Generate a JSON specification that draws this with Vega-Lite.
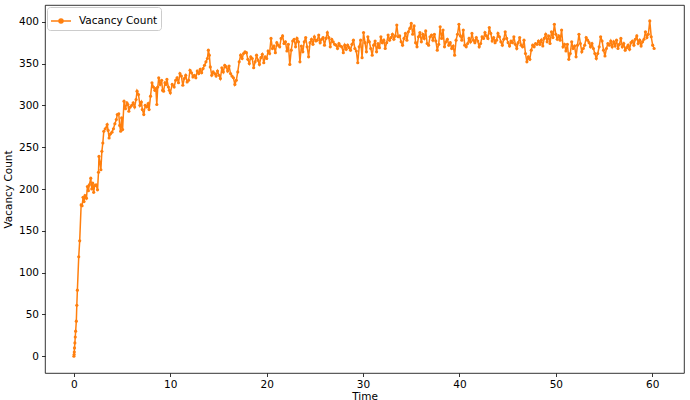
{
  "$schema": "https://vega.github.io/schema/vega-lite/v6.json",
  "width": 639,
  "height": 368,
  "autosize": {"type": "none"},
  "padding": {"left": 45, "top": 5, "right": 6, "bottom": 27},
  "background": "white",
  "config": {
    "view": {"stroke": "black", "strokeWidth": 0.8},
    "font": "DejaVu Sans",
    "axis": {"grid": false, "domain": false, "tickColor": "black", "tickSize": 3.5, "tickWidth": 0.8, "labelColor": "black", "labelFontSize": 10.5, "labelFont": "DejaVu Sans", "titleFont": "DejaVu Sans", "titleFontSize": 10.5, "titleFontWeight": "normal", "titleColor": "black", "labelPadding": 3}
  },
  "data": {"values": [
    {"t":0,"v":0},{"t":0.02,"v":2},{"t":0.04,"v":5},{"t":0.06,"v":10},{"t":0.1,"v":16},{"t":0.14,"v":23},{"t":0.18,"v":30},{"t":0.25,"v":42},{"t":0.3,"v":61},{"t":0.36,"v":79},{"t":0.5,"v":119},{"t":0.6,"v":138},{"t":0.75,"v":181},{"t":0.85,"v":180},{"t":0.95,"v":190},{"t":1.05,"v":185},{"t":1.15,"v":192},{"t":1.3,"v":189},{"t":1.4,"v":203},{"t":1.5,"v":198},{"t":1.6,"v":205},{"t":1.75,"v":213},{"t":1.85,"v":200},{"t":1.95,"v":207},{"t":2.05,"v":196},{"t":2.15,"v":204},{"t":2.3,"v":205},{"t":2.45,"v":199},{"t":2.55,"v":220},{"t":2.6,"v":239},{"t":2.7,"v":232},{"t":2.8,"v":223},{"t":2.9,"v":245},{"t":3.0,"v":255},{"t":3.1,"v":269},{"t":3.25,"v":272},{"t":3.45,"v":277},{"t":3.55,"v":270},{"t":3.65,"v":261},{"t":3.8,"v":266},{"t":3.95,"v":268},{"t":4.1,"v":272},{"t":4.25,"v":278},{"t":4.4,"v":283},{"t":4.5,"v":289},{"t":4.65,"v":290},{"t":4.75,"v":276},{"t":4.85,"v":269},{"t":4.95,"v":285},{"t":5.05,"v":271},{"t":5.2,"v":305},{"t":5.35,"v":296},{"t":5.5,"v":303},{"t":5.6,"v":301},{"t":5.7,"v":293},{"t":5.85,"v":298},{"t":6.0,"v":300},{"t":6.15,"v":303},{"t":6.3,"v":298},{"t":6.45,"v":307},{"t":6.55,"v":317},{"t":6.7,"v":313},{"t":6.85,"v":300},{"t":7.0,"v":304},{"t":7.1,"v":295},{"t":7.25,"v":289},{"t":7.4,"v":300},{"t":7.55,"v":298},{"t":7.7,"v":302},{"t":7.8,"v":295},{"t":7.95,"v":311},{"t":8.1,"v":327},{"t":8.25,"v":322},{"t":8.4,"v":318},{"t":8.5,"v":320},{"t":8.6,"v":301},{"t":8.7,"v":322},{"t":8.8,"v":333},{"t":8.95,"v":325},{"t":9.1,"v":330},{"t":9.2,"v":318},{"t":9.3,"v":317},{"t":9.45,"v":327},{"t":9.55,"v":325},{"t":9.65,"v":331},{"t":9.8,"v":322},{"t":9.9,"v":318},{"t":10.0,"v":315},{"t":10.2,"v":325},{"t":10.4,"v":322},{"t":10.55,"v":330},{"t":10.7,"v":333},{"t":10.85,"v":327},{"t":11.0,"v":338},{"t":11.15,"v":335},{"t":11.3,"v":324},{"t":11.45,"v":332},{"t":11.6,"v":336},{"t":11.75,"v":328},{"t":11.9,"v":330},{"t":12.05,"v":342},{"t":12.2,"v":339},{"t":12.35,"v":334},{"t":12.5,"v":336},{"t":12.65,"v":333},{"t":12.8,"v":341},{"t":12.95,"v":338},{"t":13.1,"v":343},{"t":13.25,"v":339},{"t":13.4,"v":344},{"t":13.55,"v":348},{"t":13.7,"v":352},{"t":13.85,"v":356},{"t":13.95,"v":366},{"t":14.05,"v":360},{"t":14.15,"v":346},{"t":14.3,"v":336},{"t":14.45,"v":340},{"t":14.6,"v":338},{"t":14.75,"v":335},{"t":14.9,"v":341},{"t":15.05,"v":336},{"t":15.2,"v":332},{"t":15.35,"v":345},{"t":15.5,"v":340},{"t":15.65,"v":348},{"t":15.8,"v":346},{"t":15.95,"v":341},{"t":16.1,"v":347},{"t":16.25,"v":338},{"t":16.4,"v":335},{"t":16.55,"v":333},{"t":16.7,"v":325},{"t":16.85,"v":330},{"t":17.0,"v":340},{"t":17.15,"v":352},{"t":17.3,"v":360},{"t":17.45,"v":356},{"t":17.6,"v":362},{"t":17.75,"v":364},{"t":17.9,"v":363},{"t":18.05,"v":355},{"t":18.2,"v":350},{"t":18.35,"v":358},{"t":18.5,"v":356},{"t":18.65,"v":345},{"t":18.8,"v":352},{"t":18.95,"v":360},{"t":19.1,"v":354},{"t":19.25,"v":349},{"t":19.4,"v":357},{"t":19.55,"v":361},{"t":19.7,"v":351},{"t":19.85,"v":358},{"t":20.0,"v":356},{"t":20.15,"v":365},{"t":20.3,"v":362},{"t":20.45,"v":380},{"t":20.6,"v":368},{"t":20.75,"v":371},{"t":20.9,"v":363},{"t":21.05,"v":375},{"t":21.2,"v":372},{"t":21.35,"v":370},{"t":21.5,"v":380},{"t":21.65,"v":383},{"t":21.8,"v":374},{"t":21.95,"v":376},{"t":22.1,"v":365},{"t":22.25,"v":373},{"t":22.4,"v":349},{"t":22.55,"v":366},{"t":22.7,"v":377},{"t":22.85,"v":379},{"t":23.0,"v":370},{"t":23.15,"v":380},{"t":23.3,"v":376},{"t":23.45,"v":352},{"t":23.6,"v":371},{"t":23.75,"v":364},{"t":23.9,"v":376},{"t":24.05,"v":381},{"t":24.2,"v":370},{"t":24.35,"v":358},{"t":24.5,"v":375},{"t":24.65,"v":379},{"t":24.8,"v":373},{"t":24.95,"v":382},{"t":25.1,"v":377},{"t":25.25,"v":378},{"t":25.4,"v":384},{"t":25.55,"v":375},{"t":25.7,"v":379},{"t":25.85,"v":381},{"t":26.0,"v":372},{"t":26.15,"v":380},{"t":26.3,"v":387},{"t":26.45,"v":381},{"t":26.6,"v":370},{"t":26.75,"v":379},{"t":26.9,"v":376},{"t":27.05,"v":373},{"t":27.2,"v":372},{"t":27.35,"v":368},{"t":27.5,"v":374},{"t":27.65,"v":371},{"t":27.8,"v":370},{"t":27.95,"v":363},{"t":28.1,"v":372},{"t":28.25,"v":367},{"t":28.4,"v":372},{"t":28.55,"v":369},{"t":28.7,"v":366},{"t":28.85,"v":373},{"t":29.0,"v":378},{"t":29.15,"v":368},{"t":29.3,"v":365},{"t":29.45,"v":351},{"t":29.6,"v":370},{"t":29.75,"v":378},{"t":29.9,"v":357},{"t":30.05,"v":387},{"t":30.2,"v":375},{"t":30.35,"v":364},{"t":30.5,"v":382},{"t":30.65,"v":376},{"t":30.8,"v":368},{"t":30.95,"v":360},{"t":31.1,"v":372},{"t":31.25,"v":377},{"t":31.4,"v":364},{"t":31.55,"v":374},{"t":31.7,"v":369},{"t":31.85,"v":382},{"t":32.0,"v":375},{"t":32.15,"v":378},{"t":32.3,"v":368},{"t":32.45,"v":375},{"t":32.6,"v":384},{"t":32.75,"v":378},{"t":32.9,"v":381},{"t":33.05,"v":385},{"t":33.2,"v":379},{"t":33.35,"v":383},{"t":33.5,"v":396},{"t":33.65,"v":382},{"t":33.8,"v":383},{"t":33.95,"v":376},{"t":34.1,"v":372},{"t":34.25,"v":380},{"t":34.4,"v":386},{"t":34.55,"v":378},{"t":34.7,"v":388},{"t":34.85,"v":392},{"t":35.0,"v":398},{"t":35.15,"v":385},{"t":35.3,"v":395},{"t":35.45,"v":375},{"t":35.6,"v":370},{"t":35.75,"v":382},{"t":35.9,"v":387},{"t":36.05,"v":376},{"t":36.2,"v":385},{"t":36.35,"v":380},{"t":36.5,"v":389},{"t":36.65,"v":374},{"t":36.8,"v":372},{"t":36.95,"v":382},{"t":37.1,"v":384},{"t":37.25,"v":378},{"t":37.4,"v":385},{"t":37.55,"v":377},{"t":37.7,"v":366},{"t":37.85,"v":373},{"t":38.0,"v":394},{"t":38.15,"v":380},{"t":38.3,"v":390},{"t":38.45,"v":370},{"t":38.6,"v":376},{"t":38.75,"v":379},{"t":38.9,"v":372},{"t":39.05,"v":375},{"t":39.2,"v":368},{"t":39.35,"v":371},{"t":39.5,"v":360},{"t":39.65,"v":378},{"t":39.8,"v":385},{"t":39.95,"v":397},{"t":40.1,"v":383},{"t":40.25,"v":378},{"t":40.4,"v":390},{"t":40.55,"v":372},{"t":40.7,"v":370},{"t":40.85,"v":374},{"t":41.0,"v":380},{"t":41.15,"v":376},{"t":41.3,"v":386},{"t":41.45,"v":378},{"t":41.6,"v":375},{"t":41.75,"v":381},{"t":41.9,"v":377},{"t":42.05,"v":370},{"t":42.2,"v":374},{"t":42.35,"v":382},{"t":42.5,"v":380},{"t":42.65,"v":387},{"t":42.8,"v":383},{"t":42.95,"v":380},{"t":43.1,"v":393},{"t":43.25,"v":386},{"t":43.4,"v":377},{"t":43.55,"v":381},{"t":43.7,"v":375},{"t":43.85,"v":378},{"t":44.0,"v":386},{"t":44.15,"v":382},{"t":44.3,"v":376},{"t":44.45,"v":372},{"t":44.6,"v":379},{"t":44.75,"v":388},{"t":44.9,"v":380},{"t":45.05,"v":375},{"t":45.2,"v":371},{"t":45.35,"v":377},{"t":45.5,"v":375},{"t":45.65,"v":382},{"t":45.8,"v":373},{"t":45.95,"v":368},{"t":46.1,"v":375},{"t":46.25,"v":381},{"t":46.4,"v":372},{"t":46.55,"v":370},{"t":46.7,"v":378},{"t":46.85,"v":362},{"t":47.0,"v":352},{"t":47.15,"v":358},{"t":47.3,"v":355},{"t":47.45,"v":366},{"t":47.6,"v":372},{"t":47.75,"v":370},{"t":47.9,"v":374},{"t":48.05,"v":373},{"t":48.2,"v":377},{"t":48.35,"v":373},{"t":48.5,"v":378},{"t":48.65,"v":371},{"t":48.8,"v":380},{"t":48.95,"v":385},{"t":49.1,"v":376},{"t":49.25,"v":383},{"t":49.4,"v":374},{"t":49.55,"v":388},{"t":49.7,"v":381},{"t":49.85,"v":397},{"t":50.0,"v":385},{"t":50.15,"v":379},{"t":50.3,"v":383},{"t":50.45,"v":378},{"t":50.6,"v":390},{"t":50.75,"v":370},{"t":50.9,"v":373},{"t":51.05,"v":365},{"t":51.2,"v":373},{"t":51.35,"v":355},{"t":51.5,"v":362},{"t":51.65,"v":376},{"t":51.8,"v":368},{"t":51.95,"v":371},{"t":52.1,"v":358},{"t":52.25,"v":372},{"t":52.4,"v":385},{"t":52.55,"v":374},{"t":52.7,"v":364},{"t":52.85,"v":368},{"t":53.0,"v":372},{"t":53.15,"v":381},{"t":53.3,"v":378},{"t":53.45,"v":375},{"t":53.6,"v":370},{"t":53.75,"v":374},{"t":53.9,"v":368},{"t":54.05,"v":362},{"t":54.2,"v":356},{"t":54.35,"v":362},{"t":54.5,"v":370},{"t":54.65,"v":382},{"t":54.8,"v":377},{"t":54.95,"v":366},{"t":55.1,"v":359},{"t":55.25,"v":368},{"t":55.4,"v":374},{"t":55.55,"v":372},{"t":55.7,"v":377},{"t":55.85,"v":370},{"t":56.0,"v":376},{"t":56.15,"v":371},{"t":56.3,"v":378},{"t":56.45,"v":368},{"t":56.6,"v":373},{"t":56.75,"v":380},{"t":56.9,"v":370},{"t":57.05,"v":374},{"t":57.2,"v":366},{"t":57.35,"v":369},{"t":57.5,"v":372},{"t":57.65,"v":367},{"t":57.8,"v":375},{"t":57.95,"v":377},{"t":58.1,"v":372},{"t":58.25,"v":379},{"t":58.4,"v":383},{"t":58.55,"v":374},{"t":58.7,"v":378},{"t":58.85,"v":371},{"t":59.0,"v":376},{"t":59.15,"v":379},{"t":59.3,"v":388},{"t":59.45,"v":381},{"t":59.6,"v":385},{"t":59.75,"v":401},{"t":59.9,"v":382},{"t":60.05,"v":372},{"t":60.2,"v":368}
  ]},
  "mark": {"type": "line", "strokeWidth": 1.5, "clip": true, "point": {"filled": true, "size": 10, "opacity": 1}},
  "encoding": {
    "x": {"field": "t", "type": "quantitative", "title": "Time", "scale": {"domain": [-3.0, 63.3], "nice": false, "zero": false}, "axis": {"values": [0, 10, 20, 30, 40, 50, 60], "titlePadding": 1}},
    "y": {"field": "v", "type": "quantitative", "title": "Vacancy Count", "scale": {"domain": [-20, 420], "nice": false, "zero": false}, "axis": {"values": [0, 50, 100, 150, 200, 250, 300, 350, 400], "titlePadding": 5}},
    "color": {"datum": "Vacancy Count", "type": "nominal", "scale": {"range": ["#ff7f0e"]}, "legend": {"title": null, "orient": "top-left", "offset": 2, "fillColor": "white", "strokeColor": "#cccccc", "cornerRadius": 3, "padding": 3, "labelFontSize": 10.5, "labelFont": "DejaVu Sans", "labelColor": "black", "symbolType": "M -1 0 L 1 0 M -0.2 0 A 0.2 0.2 0 1 0 0.2 0 A 0.2 0.2 0 1 0 -0.2 0", "symbolSize": 400, "symbolStrokeWidth": 1.5, "symbolFillColor": "#ff7f0e", "symbolStrokeColor": "#ff7f0e", "labelOffset": 7}}
  }
}
